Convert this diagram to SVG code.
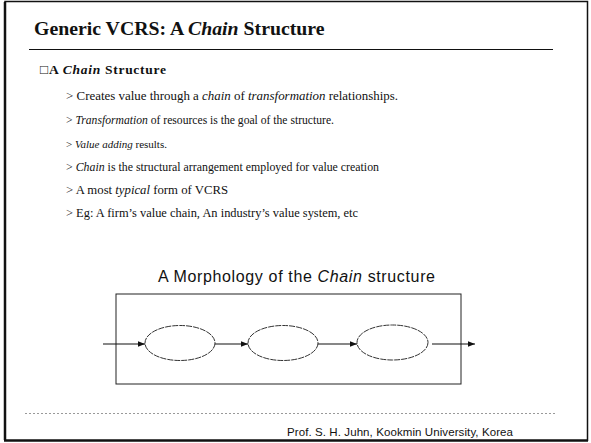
<svg xmlns="http://www.w3.org/2000/svg" width="591" height="443" viewBox="0 0 591 443">
  <style>
    .serif { font-family: "Liberation Serif", "Times New Roman", serif; fill: #111; }
    .sans { font-family: "Liberation Sans", Arial, sans-serif; fill: #111; }
    .title { font-size: 19.8px; font-weight: bold; }
    .head { font-size: 13.5px; font-weight: bold; }
    .item { font-size: 12px; }
    .frame { fill: none; stroke: #222; stroke-width: 1; }
    .node ellipse { fill: #fff; stroke: #333; stroke-width: 1; stroke-dasharray: 6 1; }
    .link { stroke: #111; stroke-width: 1.2; fill: none; marker-end: url(#head); }
  </style>
  <defs>
    <marker id="head" viewBox="0 0 10 10" refX="10" refY="5" markerWidth="7" markerHeight="7" markerUnits="userSpaceOnUse" orient="auto">
      <path d="M0,1 L10,5 L0,9 z" fill="#111"/>
    </marker>
  </defs>

  <rect width="591" height="443" fill="#fff"/>

  <!-- page border -->
  <path d="M5,441 L5,1.5 L587.5,1.5 L587.5,441" fill="none" stroke="#111" stroke-width="1.5"/>
  <line x1="4" y1="440.5" x2="588" y2="440.5" stroke="#111" stroke-width="2.5"/>
  <line x1="5" y1="2" x2="5" y2="440" stroke="#111" stroke-width="2.5"/>

  <!-- slide title -->
  <text class="serif title" x="34" y="35">Generic VCRS: A <tspan font-style="italic">Chain</tspan> Structure</text>
  <line x1="29" y1="49.5" x2="553" y2="49.5" stroke="#111" stroke-width="1.2"/>

  <!-- heading and bullet list -->
  <text class="serif head" x="40" y="74" textLength="126" lengthAdjust="spacing">□A <tspan font-style="italic">Chain</tspan> Structure</text>
  <g class="serif item">
    <text x="66" y="100" textLength="332" lengthAdjust="spacingAndGlyphs">&gt; Creates value through a <tspan font-style="italic">chain</tspan> of <tspan font-style="italic">transformation</tspan> relationships.</text>
    <text x="66" y="124" textLength="268" lengthAdjust="spacingAndGlyphs">&gt; <tspan font-style="italic">Transformation</tspan> of resources is the goal of the structure.</text>
    <text x="66" y="148" font-size="11">&gt; <tspan font-style="italic">Value adding</tspan> results.</text>
    <text x="66" y="171" textLength="313" lengthAdjust="spacingAndGlyphs">&gt; <tspan font-style="italic">Chain</tspan> is the structural arrangement employed for value creation</text>
    <text x="66" y="194" textLength="162" lengthAdjust="spacingAndGlyphs">&gt; A most <tspan font-style="italic">typical</tspan> form of VCRS</text>
    <text x="66" y="217" textLength="292" lengthAdjust="spacingAndGlyphs">&gt; Eg: A firm’s value chain, An industry’s value system, etc</text>
  </g>

  <!-- chain morphology -->
  <text class="sans" font-size="16" x="158" y="282" textLength="277" lengthAdjust="spacing">A Morphology of the <tspan font-style="italic">Chain</tspan> structure</text>
  <rect class="frame" x="116" y="294" width="345" height="90"/>

  <g id="node1" class="node"><ellipse cx="180" cy="343" rx="35" ry="17.5"/></g>
  <g id="node2" class="node"><ellipse cx="283" cy="343" rx="35" ry="17.5"/></g>
  <g id="node3" class="node"><ellipse cx="392.5" cy="342.5" rx="35.5" ry="17.5"/></g>

  <g id="connectors">
    <line class="link" x1="103" y1="344" x2="145" y2="344"/>
    <line class="link" x1="215" y1="344" x2="248" y2="344"/>
    <line class="link" x1="318" y1="344" x2="357" y2="344"/>
    <line class="link" x1="432" y1="344" x2="475" y2="344"/>
  </g>

  <!-- footer -->
  <line x1="25" y1="413.5" x2="555" y2="413.5" stroke="#999" stroke-width="1" stroke-dasharray="2 2"/>
  <text class="sans" font-size="11.5" x="287" y="436" textLength="226" lengthAdjust="spacing">Prof. S. H. Juhn, Kookmin University, Korea</text>
</svg>
